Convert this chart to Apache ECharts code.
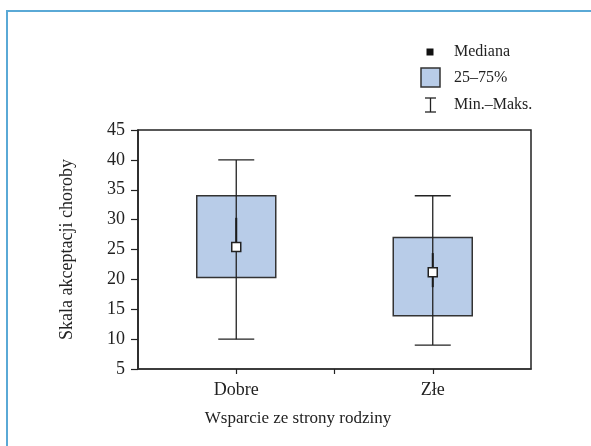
<!DOCTYPE html>
<html>
<head>
<meta charset="utf-8">
<script src="https://cdn.jsdelivr.net/npm/echarts@6/dist/echarts.min.js"></script>
<style>html,body{margin:0;padding:0;background:#fff}#c{width:591px;height:446px}</style>
</head>
<body>
<div id="c"></div>
<script>
const categories = ['Dobre', 'Złe'];
const minVals = [10, 9];
const q1Vals = [20.3, 13.9];
const medianVals = [25.4, 21.2];
const q3Vals = [34, 27];
const maxVals = [40, 34];
const innerLo = [25.4, 18.7];
const innerHi = [30.3, 24.4];
const yTicks = [5, 10, 15, 20, 25, 30, 35, 40, 45];
const legendLabels = ['Mediana', '25–75%', 'Min.–Maks.'];
const xTitle = 'Wsparcie ze strony rodziny';
const yTitle = 'Skala akceptacji choroby';

const FONT = '"Liberation Serif", "Times New Roman", serif';
const pos = categories.map((c, i) => 2 * i + 1);
const data = categories.map((c, i) => [pos[i], minVals[i], q1Vals[i], medianVals[i], q3Vals[i], maxVals[i], innerLo[i], innerHi[i]]);

const chart = echarts.init(document.getElementById('c'), null, {renderer: 'canvas'});
chart.setOption({
  animation: false,
  backgroundColor: '#fff',
  grid: {left: 138, right: 60, top: 130, bottom: 77, show: true, borderColor: '#222', borderWidth: 1.5, backgroundColor: 'transparent'},
  xAxis: {
    type: 'value', min: 0, max: 2 * categories.length, interval: 1,
    axisLine: {show: true, lineStyle: {color: '#333', width: 1.5}},
    axisTick: {show: true, length: 5, lineStyle: {color: '#222', width: 1.2}, customValues: [1, 2, 3]},
    axisLabel: {
      customValues: pos,
      margin: 12, color: '#222', fontSize: 18, fontFamily: FONT,
      formatter: v => { const i = (v - 1) / 2; return Number.isInteger(i) && categories[i] ? categories[i] : ''; }
    },
    splitLine: {show: false}
  },
  yAxis: {
    type: 'value', min: yTicks[0], max: yTicks[yTicks.length - 1], interval: 5,
    name: yTitle, nameLocation: 'middle', nameGap: 62,
    nameTextStyle: {color: '#222', fontSize: 18, fontFamily: FONT},
    axisLine: {show: true, lineStyle: {color: '#222', width: 1.5}},
    axisTick: {show: true, length: 7, lineStyle: {color: '#222', width: 1.2}},
    axisLabel: {margin: 13, color: '#222', fontSize: 18, fontFamily: FONT},
    splitLine: {show: false}
  },
  series: [{
    type: 'custom',
    encode: {x: 0, y: [1, 5]},
    data: data,
    renderItem: function (params, api) {
      const x = api.value(0);
      const pMin = api.coord([x, api.value(1)]);
      const pQ1 = api.coord([x, api.value(2)]);
      const pMed = api.coord([x, api.value(3)]);
      const pQ3 = api.coord([x, api.value(4)]);
      const pMax = api.coord([x, api.value(5)]);
      const pLo = api.coord([x, api.value(6)]);
      const pHi = api.coord([x, api.value(7)]);
      const cx = pMed[0];
      const bw = 39.5, cw = 18, ms = 4.5;
      const ls = {stroke: '#222', lineWidth: 1.3};
      return {
        type: 'group',
        children: [
          {type: 'rect', shape: {x: cx - bw, y: pQ3[1], width: 2 * bw, height: pQ1[1] - pQ3[1]}, style: {fill: '#b8cce8', stroke: '#333', lineWidth: 1.5}},
          {type: 'line', shape: {x1: cx, y1: pMax[1], x2: cx, y2: pMin[1]}, style: ls},
          {type: 'line', shape: {x1: cx - cw, y1: pMax[1], x2: cx + cw, y2: pMax[1]}, style: ls},
          {type: 'line', shape: {x1: cx - cw, y1: pMin[1], x2: cx + cw, y2: pMin[1]}, style: ls},
          {type: 'line', shape: {x1: cx, y1: pHi[1], x2: cx, y2: pLo[1]}, style: {stroke: '#1a1a1a', lineWidth: 2}},
          {type: 'rect', shape: {x: cx - ms, y: pMed[1] - ms, width: 2 * ms, height: 2 * ms}, style: {fill: '#fff', stroke: '#222', lineWidth: 1.5}}
        ]
      };
    }
  }],
  graphic: [
    {type: 'polyline', shape: {points: [[7, 446], [7, 11], [591, 11]]}, style: {stroke: '#5aa9d6', lineWidth: 2, fill: null}},
    {type: 'text', x: 298, y: 419, style: {text: xTitle, fill: '#222', font: '17px ' + FONT, align: 'center', verticalAlign: 'middle'}},
    {type: 'rect', shape: {x: 426.5, y: 48.5, width: 7, height: 7}, style: {fill: '#111'}},
    {type: 'text', x: 454, y: 52, style: {text: legendLabels[0], fill: '#222', font: '16px ' + FONT, verticalAlign: 'middle'}},
    {type: 'rect', shape: {x: 421, y: 68, width: 19, height: 19}, style: {fill: '#b8cce8', stroke: '#333', lineWidth: 1.5}},
    {type: 'text', x: 454, y: 78, style: {text: legendLabels[1], fill: '#222', font: '16px ' + FONT, verticalAlign: 'middle'}},
    {type: 'line', shape: {x1: 430.5, y1: 98, x2: 430.5, y2: 112}, style: {stroke: '#222', lineWidth: 1.3}},
    {type: 'line', shape: {x1: 425, y1: 98, x2: 436, y2: 98}, style: {stroke: '#222', lineWidth: 1.3}},
    {type: 'line', shape: {x1: 425, y1: 112, x2: 436, y2: 112}, style: {stroke: '#222', lineWidth: 1.3}},
    {type: 'text', x: 454, y: 105, style: {text: legendLabels[2], fill: '#222', font: '16px ' + FONT, verticalAlign: 'middle'}}
  ]
});
</script>
</body>
</html>
